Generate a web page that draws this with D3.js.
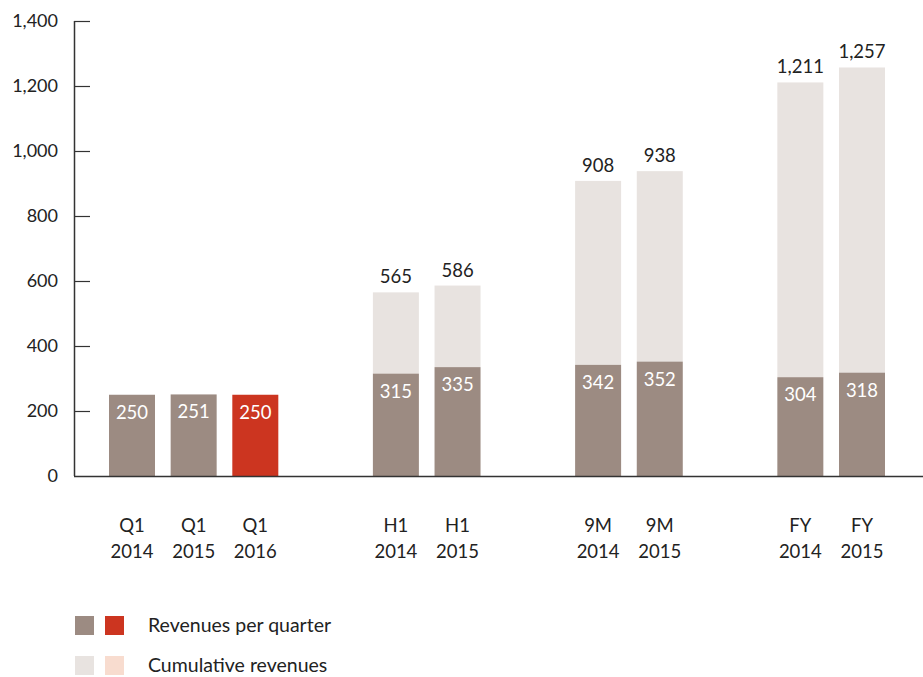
<!DOCTYPE html>
<html>
<head>
<meta charset="utf-8">
<script src="https://cdn.jsdelivr.net/npm/d3@7"></script>
<style>
  body { margin: 0; background: #fff; }
  svg { display: block; font-family: Lato, 'Open Sans', sans-serif; }
</style>
</head>
<body>
<div id="chart"></div>
<script>
// data
var periods = ['Q1', 'Q1', 'Q1', 'H1', 'H1', '9M', '9M', 'FY', 'FY'];
var years = ['2014', '2015', '2016', '2014', '2015', '2014', '2015', '2014', '2015'];
var groups = ['Q1', 'H1', '9M', 'FY'];
var quarterValues = [250, 251, 250, 315, 335, 342, 352, 304, 318];
var cumulativeValues = [250, 251, 250, 565, 586, 908, 938, 1211, 1257];
var highlight = [false, false, true, false, false, false, false, false, false];
var yTicks = [0, 200, 400, 600, 800, 1000, 1200, 1400];
var legendItems = ['Revenues per quarter', 'Cumulative revenues'];

var width = 923, height = 677;
var colors = {
    quarter: '#9c8b82',
    quarterHi: '#cc3520',
    cumul: '#e8e3e0',
    cumulHi: '#f8dccf',
    axis: '#333333',
    text: '#222222'
};

var svg = d3.select('#chart')
    .append('svg')
    .attr('width', width)
    .attr('height', height);

var y = d3.scaleLinear().domain([0, 1400]).range([476, 21]);

// bar slots: one unit per bar, a wider gap between period groups
var groupGap = 2.28;
var slot = periods.map(function (p, i) {
    return i + groups.indexOf(p) * (groupGap - 1);
});
var x = d3.scaleLinear()
    .domain([0, d3.max(slot)])
    .range([132, 862]);
var barW = 46;

// y axis
var yAxis = d3.axisLeft(y)
    .tickValues(yTicks)
    .tickSize(0)
    .tickPadding(16)
    .tickFormat(d3.format(','));
var ga = svg.append('g')
    .attr('transform', 'translate(74,0)')
    .call(yAxis);
ga.select('.domain').remove();
ga.selectAll('text')
    .attr('font-size', 18)
    .attr('fill', colors.text)
    .attr('font-family', 'Lato, sans-serif');

svg.append('line')
    .attr('x1', 74.5).attr('x2', 74.5)
    .attr('y1', y(1400)).attr('y2', y(0))
    .attr('stroke', colors.axis).attr('stroke-width', 1.5);

svg.selectAll('.tick-mark')
    .data(yTicks.slice(1))
    .enter()
    .append('line')
    .attr('class', 'tick-mark')
    .attr('x1', 74).attr('x2', 90)
    .attr('y1', function (d) { return y(d) + 0.5; })
    .attr('y2', function (d) { return y(d) + 0.5; })
    .attr('stroke', colors.axis).attr('stroke-width', 1.2);

// cumulative (upper) part
var idx = d3.range(periods.length);
svg.selectAll('.cumul')
    .data(idx.filter(function (i) { return cumulativeValues[i] > quarterValues[i]; }))
    .enter()
    .append('rect')
    .attr('class', 'cumul')
    .attr('x', function (i) { return x(slot[i]) - barW / 2; })
    .attr('width', barW)
    .attr('y', function (i) { return y(cumulativeValues[i]); })
    .attr('height', function (i) { return y(quarterValues[i]) - y(cumulativeValues[i]); })
    .attr('fill', function (i) { return highlight[i] ? colors.cumulHi : colors.cumul; });

// quarter (lower) part
svg.selectAll('.quarter')
    .data(idx)
    .enter()
    .append('rect')
    .attr('class', 'quarter')
    .attr('x', function (i) { return x(slot[i]) - barW / 2; })
    .attr('width', barW)
    .attr('y', function (i) { return y(quarterValues[i]); })
    .attr('height', function (i) { return y(0) - y(quarterValues[i]); })
    .attr('fill', function (i) { return highlight[i] ? colors.quarterHi : colors.quarter; });

// baseline
svg.append('line')
    .attr('x1', 74).attr('x2', width)
    .attr('y1', y(0) + 0.5).attr('y2', y(0) + 0.5)
    .attr('stroke', colors.axis).attr('stroke-width', 1.5);

// value labels inside quarter bars
svg.selectAll('.qlabel')
    .data(idx)
    .enter()
    .append('text')
    .attr('class', 'qlabel')
    .attr('x', function (i) { return x(slot[i]); })
    .attr('y', function (i) { return y(quarterValues[i]) + 24; })
    .attr('text-anchor', 'middle')
    .attr('font-size', 18.5)
    .attr('fill', '#fff')
    .text(function (i) { return d3.format(',')(quarterValues[i]); });

// cumulative totals above bars
svg.selectAll('.clabel')
    .data(idx.filter(function (i) { return cumulativeValues[i] > quarterValues[i]; }))
    .enter()
    .append('text')
    .attr('class', 'clabel')
    .attr('x', function (i) { return x(slot[i]); })
    .attr('y', function (i) { return y(cumulativeValues[i]) - 9; })
    .attr('text-anchor', 'middle')
    .attr('font-size', 18.5)
    .attr('fill', colors.text)
    .text(function (i) { return d3.format(',')(cumulativeValues[i]); });

// category labels
var cat = svg.selectAll('.cat')
    .data(idx)
    .enter()
    .append('text')
    .attr('class', 'cat')
    .attr('text-anchor', 'middle')
    .attr('font-size', 18.5)
    .attr('fill', colors.text);
cat.append('tspan')
    .attr('x', function (i) { return x(slot[i]); })
    .attr('y', 532)
    .text(function (i) { return periods[i]; });
cat.append('tspan')
    .attr('x', function (i) { return x(slot[i]); })
    .attr('y', 558)
    .text(function (i) { return years[i]; });

// legend
var legendSwatches = [
    [colors.quarter, colors.quarterHi],
    [colors.cumul, colors.cumulHi]
];
var lg = svg.selectAll('.legend')
    .data(legendItems)
    .enter()
    .append('g')
    .attr('class', 'legend')
    .attr('transform', function (d, i) { return 'translate(75,' + (616 + i * 40) + ')'; });
lg.selectAll('rect')
    .data(function (d, i) { return legendSwatches[i]; })
    .enter()
    .append('rect')
    .attr('x', function (d, j) { return j * 30; })
    .attr('width', 19)
    .attr('height', 19)
    .attr('fill', function (d) { return d; });
lg.append('text')
    .attr('x', 73)
    .attr('y', 16)
    .attr('font-size', 19.5)
    .attr('fill', colors.text)
    .text(function (d) { return d; });
</script>
</body>
</html>
